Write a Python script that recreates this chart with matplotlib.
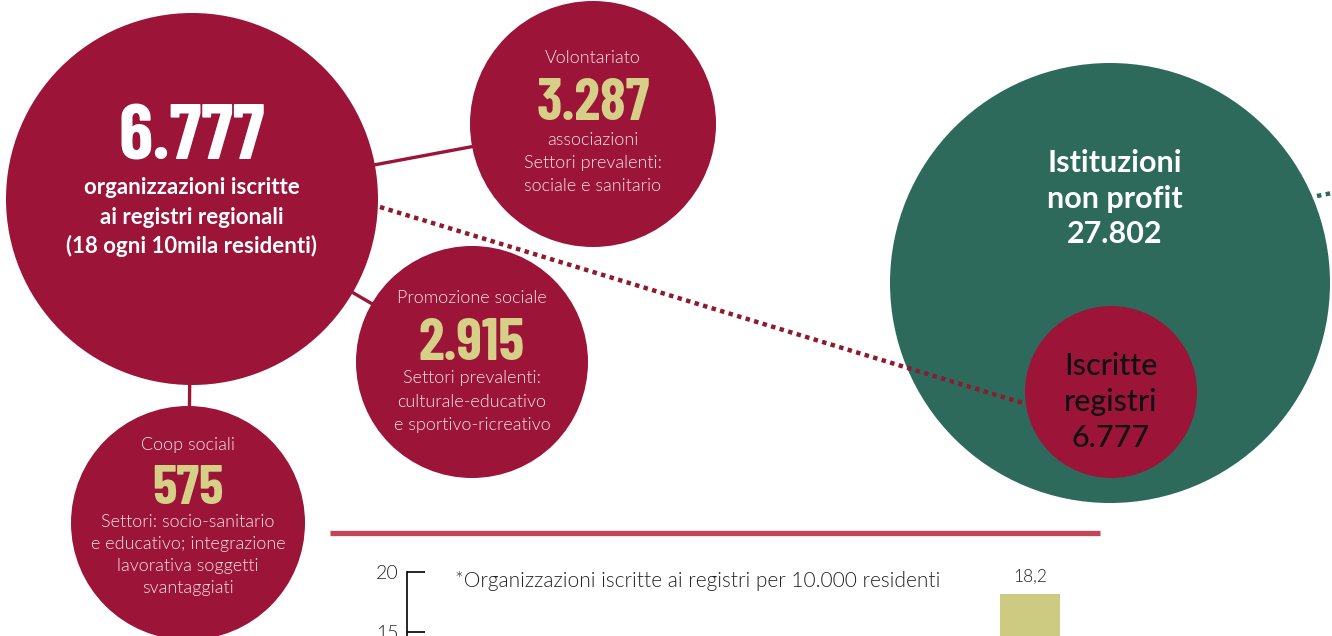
import matplotlib.pyplot as plt
from matplotlib.patches import Circle

# --- data ---
total_iscritte = "6.777"
total_lines = ["organizzazioni iscritte", "ai registri regionali", "(18 ogni 10mila residenti)"]

group_titles = ["Volontariato", "Promozione sociale", "Coop sociali"]
group_values = ["3.287", "2.915", "575"]
group_notes = [
    ["associazioni", "Settori prevalenti:", "sociale e sanitario"],
    ["Settori prevalenti:", "culturale-educativo", "e sportivo-ricreativo"],
    ["Settori: socio-sanitario", "e educativo; integrazione", "lavorativa soggetti", "svantaggiati"],
]

nonprofit_lines = ["Istituzioni", "non profit", "27.802"]
iscritte_lines = ["Iscritte", "registri", "6.777"]

bar_title = "*Organizzazioni iscritte ai registri per 10.000 residenti"
bar_values = [18.2]
bar_value_labels = ["18,2"]
y_ticks = [15, 20]

# --- colours ---
RED = "#9c1438"
GREEN = "#2d6a5c"
KHAKI = "#d6cf88"
BAR = "#cdcb82"
SEP = "#c54558"
PINK = "#f6e4e7"

W, H = 1332, 636
fig = plt.figure(figsize=(W / 100, H / 100), dpi=100)
ax = fig.add_axes([0, 0, 1, 1])
ax.set_xlim(0, W)
ax.set_ylim(H, 0)
ax.axis("off")

num_font = dict(family=["Barlow Condensed", "DejaVu Sans"], weight=700)
body_font = dict(family=["Lato", "DejaVu Sans"], weight=300)
head_font = dict(family=["Lato", "DejaVu Sans"], weight=700)
mid_font = dict(family=["Lato", "DejaVu Sans"], weight=500)

# circles: big one plus three groups (centre x, centre y, radius)
big = (192, 199, 186)
groups = [(593, 124, 123), (472, 362, 116), (188, 523, 117)]

for gx, gy, gr in groups:
    ax.plot([big[0], gx], [big[1], gy], color=RED, lw=2.4, zorder=1,
            solid_capstyle="butt")

ax.add_patch(Circle(big[:2], big[2], color=RED, zorder=3, lw=0))
for gx, gy, gr in groups:
    ax.add_patch(Circle((gx, gy), gr, color=RED, zorder=3, lw=0))

# big circle text
ax.text(big[0], 139, total_iscritte, color="white", fontsize=56, ha="center",
        va="center", zorder=5, **num_font)
for i, line in enumerate(total_lines):
    ax.text(big[0], 188 + i * 29, line, color="white", fontsize=16,
            ha="center", va="center", zorder=5, **head_font)

# group texts: (title y, value y, value size, note ys)
layout = [
    (58, 104, 42, [140, 163, 186]),
    (298, 344, 42, [378, 402, 425]),
    (445, 489, 40, [522, 544, 566, 588]),
]
for (gx, gy, gr), title, val, notes, (ty, vy, vs, ny) in zip(groups, group_titles,
                                                             group_values, group_notes, layout):
    ax.text(gx, ty, title, color=PINK, fontsize=13, ha="center", va="center",
            zorder=5, **body_font)
    ax.text(gx, vy, val, color=KHAKI, fontsize=vs, ha="center", va="center",
            zorder=5, **num_font)
    for line, y in zip(notes, ny):
        ax.text(gx, y, line, color=PINK, fontsize=13, ha="center", va="center",
                zorder=5, **body_font)

# right side: non profit vs iscritte
green = (1110, 283, 220)
inner = (1111, 392, 86)
ax.add_patch(Circle(green[:2], green[2], color=GREEN, zorder=2, lw=0))
ax.plot([380, 1026], [207, 404], color="#8e1a30", lw=3.2, ls=(0, (1, 1)),
        zorder=2.5)
ax.plot([1317, W], [196, 193], color=GREEN, lw=3.2, ls=(0, (1, 1)), zorder=2.5)
ax.add_patch(Circle(inner[:2], inner[2], color=RED, zorder=3, lw=0))

for line, y in zip(nonprofit_lines, [163, 199, 234]):
    ax.text(1115, y, line, color="white", fontsize=22, ha="center", va="center",
            zorder=5, **head_font)
for line, y in zip(iscritte_lines, [366, 402, 438]):
    ax.text(1111, y, line, color="#111111", fontsize=22, ha="center", va="center",
            zorder=5, **mid_font)

# separator
ax.plot([330, 1100], [533, 533], color=SEP, lw=3.8, solid_capstyle="butt")

# bar chart, cut at the bottom of the picture
bx0, bx1, by_top = 407, 1100, 572
bax = fig.add_axes([bx0 / W, 0, (bx1 - bx0) / W, (H - by_top) / H])
bax.patch.set_alpha(0)
bax.bar(range(len(bar_values)), bar_values, width=0.6, color=BAR)
for i, (v, lab) in enumerate(zip(bar_values, bar_value_labels)):
    bax.text(i, 19.6, lab, ha="center", va="center", fontsize=12.5,
             color="#222222", **body_font)
bax.set_xlim(-6.23, 0.7)
bax.set_ylim(20 - (H - by_top) / 12, 20)
bax.set_yticks(y_ticks)
bax.set_yticklabels([str(t) for t in y_ticks], fontsize=14, color="#222222",
                    **body_font)
bax.set_xticks([])
bax.tick_params(axis="y", direction="in", length=13, width=1.2, pad=6)
for s in ["top", "right", "bottom"]:
    bax.spines[s].set_visible(False)
bax.spines["left"].set_linewidth(1.2)
bax.text(-5.75, 20.1, bar_title, ha="left", va="top", fontsize=15,
         color="#222222", **body_font)

fig.savefig("out.png", dpi=100)
